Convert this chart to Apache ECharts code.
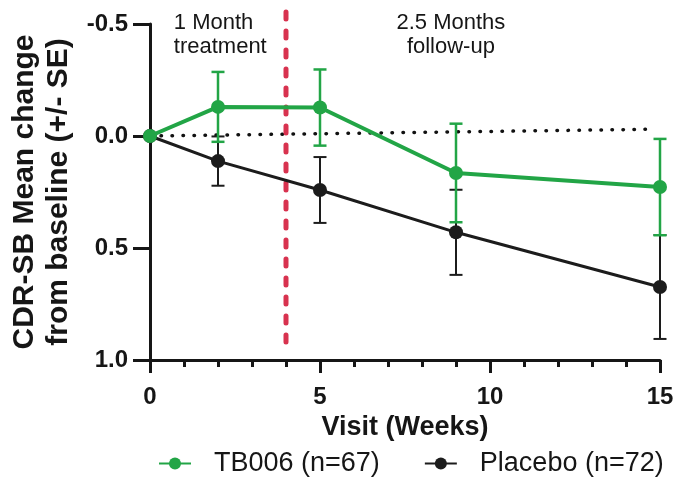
<!DOCTYPE html>
<html>
<head>
<meta charset="utf-8">
<script src="https://cdn.jsdelivr.net/npm/echarts@6/dist/echarts.min.js"></script>
<style>html,body{margin:0;padding:0;background:#fff;}#c{width:677px;height:478px;}</style>
</head>
<body>
<div id="c"></div>
<script>
const weeks = [0, 2, 5, 9, 15];
const tb006Mean = [0, -0.13, -0.127, 0.165, 0.228];
const tb006SE = [0, 0.156, 0.17, 0.22, 0.215];
const placeboMean = [0, 0.112, 0.241, 0.43, 0.674];
const placeboSE = [0, 0.11, 0.147, 0.19, 0.232];
const yTicks = [-0.5, 0.0, 0.5, 1.0];
const xTicks = [0, 5, 10, 15];
const refLine = [[0, 0], [14.7, -0.03]];
const treatmentEnd = 4;
const redLineRange = [-0.554, 0.955];
const notes = [
  {x: 0.7, y: -0.56, text: '1 Month\ntreatment', align: 'left'},
  {x: 8.85, y: -0.56, text: '2.5 Months\nfollow-up', align: 'center'}
];

const FONT = 'Liberation Sans, Arial, sans-serif';
const GREEN = '#22a546';
const BLACK = '#1c1c1c';
const RED = '#d8324f';
const INK = '#161616';

function errData(m, s) { return weeks.map((w, i) => [w, m[i], s[i]]); }
function errSeries(m, s, color, width) {
  return {
    type: 'custom', silent: true, z: 3,
    data: errData(m, s),
    encode: {x: 0, y: 1},
    renderItem: function (params, api) {
      const x = api.value(0), mean = api.value(1), se = api.value(2);
      if (se === 0) return null;
      const lo = api.coord([x, mean - se]);
      const hi = api.coord([x, mean + se]);
      const hw = 6.5;
      const st = {stroke: color, lineWidth: width};
      return {type: 'group', children: [
        {type: 'line', shape: {x1: lo[0], y1: lo[1], x2: hi[0], y2: hi[1]}, style: st},
        {type: 'line', shape: {x1: lo[0] - hw, y1: lo[1], x2: lo[0] + hw, y2: lo[1]}, style: st},
        {type: 'line', shape: {x1: hi[0] - hw, y1: hi[1], x2: hi[0] + hw, y2: hi[1]}, style: st}
      ]};
    }
  };
}

const chart = echarts.init(document.getElementById('c'));
chart.setOption({
  animation: false,
  backgroundColor: '#fff',
  grid: {left: 150, right: 17, top: 24, bottom: 118, containLabel: false, outerBoundsMode: 'none'},
  xAxis: {
    type: 'value', min: 0, max: 15, interval: 5,
    name: 'Visit (Weeks)', nameLocation: 'middle', nameGap: 27,
    nameTextStyle: {fontFamily: FONT, fontWeight: 'bold', fontSize: 27, color: INK, verticalAlign: 'top'},
    axisLine: {show: true, onZero: false, lineStyle: {color: INK, width: 3}},
    axisTick: {show: true, length: 13, lineStyle: {color: INK, width: 3}},
    minorTick: {show: true, splitNumber: 5, length: 7, lineStyle: {color: INK, width: 3}},
    splitLine: {show: false}, minorSplitLine: {show: false},
    axisLabel: {fontFamily: FONT, fontWeight: 'bold', fontSize: 24, color: INK, margin: 25,
      formatter: v => xTicks.indexOf(v) >= 0 ? String(v) : ''}
  },
  yAxis: {
    type: 'value', inverse: true, min: -0.5, max: 1.0, interval: 0.5,
    name: 'CDR-SB Mean change\nfrom baseline (+/- SE)', nameLocation: 'middle', nameGap: 72, nameRotate: 90,
    nameTextStyle: {fontFamily: FONT, fontWeight: 'bold', fontSize: 30, color: INK, lineHeight: 34},
    axisLine: {show: true, onZero: false, lineStyle: {color: INK, width: 3}},
    axisTick: {show: true, length: 17, lineStyle: {color: INK, width: 3}},
    splitLine: {show: false},
    axisLabel: {fontFamily: FONT, fontWeight: 'bold', fontSize: 24, color: INK, margin: 22,
      formatter: v => yTicks.indexOf(v) >= 0 ? v.toFixed(1) : ''}
  },
  legend: {
    top: 445, left: 153, itemGap: 44, itemWidth: 32, itemHeight: 15,
    textStyle: {fontFamily: FONT, fontSize: 27, color: INK, padding: [0, 0, 0, 18]},
    data: ['TB006 (n=67)', 'Placebo (n=72)']
  },
  series: [
    {
      type: 'line', silent: true, z: 1, data: refLine, symbol: 'none',
      lineStyle: {color: '#111', width: 3.5, type: [0.5, 10.5], cap: 'round'}
    },
    {
      type: 'custom', silent: true, z: 2, data: [[treatmentEnd, redLineRange[0], redLineRange[1]]],
      encode: {x: 0, y: 1},
      renderItem: function (params, api) {
        const a = api.coord([api.value(0), api.value(1)]);
        const b = api.coord([api.value(0), api.value(2)]);
        return {type: 'line', shape: {x1: a[0], y1: a[1], x2: b[0], y2: b[1]},
          style: {stroke: RED, lineWidth: 5, lineDash: [7, 12], lineCap: 'round'}};
      }
    },
    {
      type: 'custom', silent: true, z: 2, data: notes.map(n => [n.x, n.y]),
      encode: {x: 0, y: 1},
      renderItem: function (params, api) {
        const p = api.coord([api.value(0), api.value(1)]);
        const n = notes[params.dataIndex];
        return {type: 'text', x: p[0], y: p[1],
          style: {text: n.text, fill: INK, font: '22px ' + FONT, align: n.align,
            verticalAlign: 'top', lineHeight: 24}};
      }
    },
    errSeries(placeboMean, placeboSE, BLACK, 2),
    {
      name: 'Placebo (n=72)', type: 'line', z: 4,
      data: weeks.map((w, i) => [w, placeboMean[i]]),
      symbol: 'circle', symbolSize: 14,
      itemStyle: {color: BLACK}, lineStyle: {color: BLACK, width: 3}
    },
    errSeries(tb006Mean, tb006SE, GREEN, 2.5),
    {
      name: 'TB006 (n=67)', type: 'line', z: 5,
      data: weeks.map((w, i) => [w, tb006Mean[i]]),
      symbol: 'circle', symbolSize: 14,
      itemStyle: {color: GREEN}, lineStyle: {color: GREEN, width: 4}
    }
  ]
});
</script>
</body>
</html>
